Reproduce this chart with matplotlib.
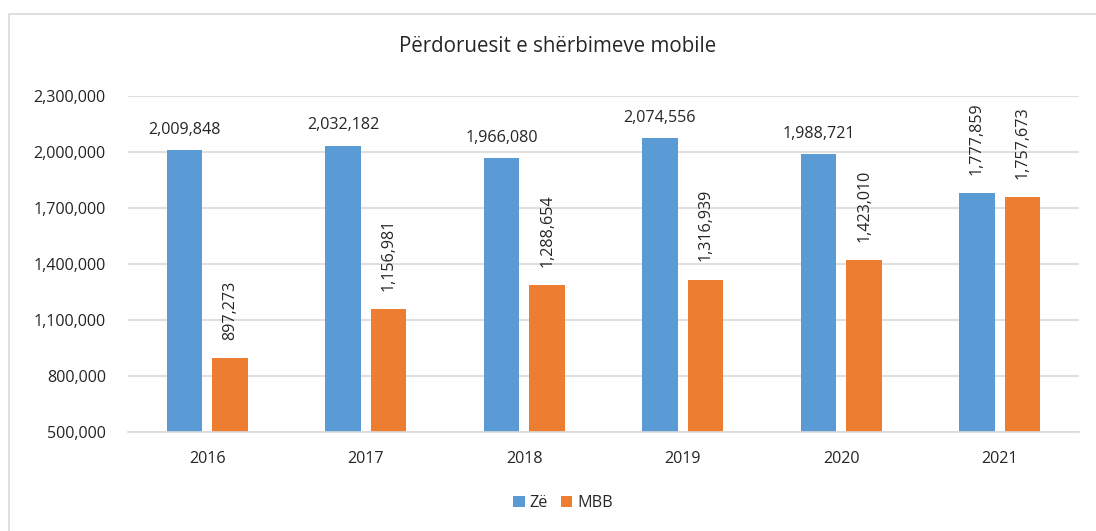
import matplotlib
matplotlib.use("Agg")
import matplotlib.pyplot as plt
from matplotlib.patches import Rectangle
import numpy as np

years = ["2016", "2017", "2018", "2019", "2020", "2021"]
ze = [2009848, 2032182, 1966080, 2074556, 1988721, 1777859]
mbb = [897273, 1156981, 1288654, 1316939, 1423010, 1757673]
ze_rotated = [False, False, False, False, False, True]
title = "Përdoruesit e shërbimeve mobile"
yticks = [500000, 800000, 1100000, 1400000, 1700000, 2000000, 2300000]

plt.rcParams['font.family'] = ['Open Sans', 'DejaVu Sans']
W, H = 1096, 531
fig = plt.figure(figsize=(W / 100, H / 100), dpi=100)
ax = fig.add_axes([128 / W, 1 - 432 / H, (1079 - 128) / W, (432 - 96) / H])

blue = "#5B9BD5"
orange = "#ED7D31"
txt = "#262626"
fs = 11.6
x = np.arange(len(years))
bw = 0.225
gap = 0.063
off = (bw + gap) / 2
ax.bar(x - off, ze, bw, color=blue, label="Zë")
ax.bar(x + off, mbb, bw, color=orange, label="MBB")

ax.set_xlim(-0.5, len(years) - 0.5)
ax.set_ylim(500000, 2300000)
ax.set_yticks(yticks)
ax.set_yticklabels([f"{v:,}" for v in yticks], fontsize=fs, color=txt)
ax.set_xticks(x)
ax.set_xticklabels(years, fontsize=fs, color=txt)
ax.tick_params(axis='both', length=0)
ax.tick_params(axis='y', pad=16)
ax.tick_params(axis='x', pad=14)
ax.grid(axis='y', color="#D9D9D9", linewidth=1.2)
ax.set_axisbelow(True)
for s in ['top', 'right', 'left']:
    ax.spines[s].set_visible(False)
ax.spines['bottom'].set_color("#D9D9D9")
ax.spines['bottom'].set_linewidth(1.2)

for i in range(len(years)):
    if ze_rotated[i]:
        ax.annotate(f"{ze[i]:,}", (x[i] - off, ze[i]), xytext=(0, 13), textcoords='offset points',
                    rotation=90, ha='center', va='bottom', fontsize=fs, color=txt)
    else:
        ax.annotate(f"{ze[i]:,}", (x[i] - off, ze[i]), xytext=(0, 9), textcoords='offset points',
                    ha='center', va='bottom', fontsize=fs, color=txt)
    ax.annotate(f"{mbb[i]:,}", (x[i] + off, mbb[i]), xytext=(0, 13), textcoords='offset points',
                rotation=90, ha='center', va='bottom', fontsize=fs, color=txt)

fig.text(558 / W, 1 - 47 / H, title, ha='center', va='center', fontsize=14.8, color=txt)

leg = fig.legend(loc='center', bbox_to_anchor=(563 / W, 1 - 503 / H), ncol=2, frameon=False,
                 fontsize=fs, handlelength=0.7, handleheight=0.7, handletextpad=0.3, columnspacing=0.8)
for t in leg.get_texts():
    t.set_color(txt)

fig.patches.append(Rectangle((8.5 / W, -0.1), 1.2, 1 - 13.5 / H + 0.1, transform=fig.transFigure,
                             fill=False, edgecolor="#D9D9D9", linewidth=1.2))

fig.savefig("out.png", dpi=100)
